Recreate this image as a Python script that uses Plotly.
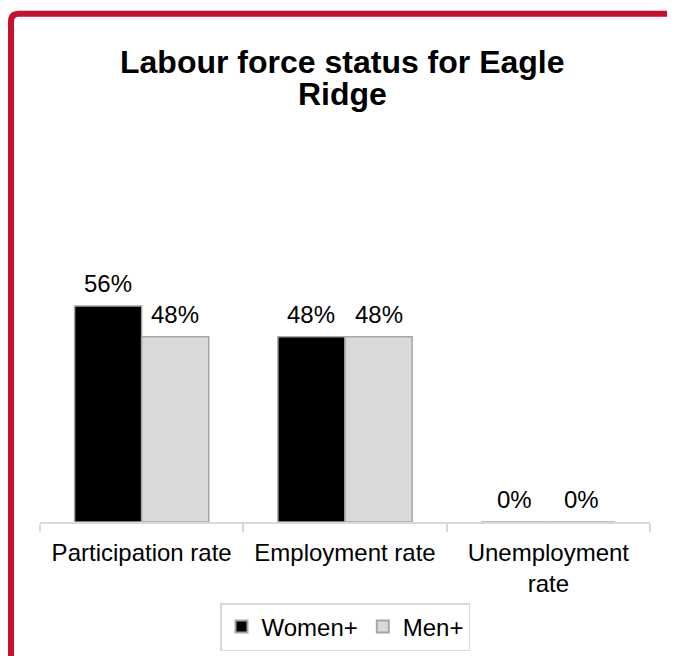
import plotly.graph_objects as go

categories = ["Participation rate", "Employment rate", "Unemployment<br>rate"]
women = [56, 48, 0]
men = [48, 48, 0]
women_labels = ["56%", "48%", "0%"]
men_labels = ["48%", "48%", "0%"]
title_lines = ["Labour force status for Eagle", "Ridge"]

W, H = 675, 656
L, R, T, B = 32, 33, 244, 142
pw, ph = W - L - R, H - T - B
BARGAP = 0.34

def px(x):
    return (x - L) / pw

def py(y):
    return (H - B - y) / ph

FONT = "Liberation Sans, Arial, sans-serif"

fig = go.Figure()
fig.add_trace(go.Bar(
    x=categories, y=women, name="Women+",
    marker=dict(color="#000000", line=dict(color="#A6A6A6", width=1.5)),
))
fig.add_trace(go.Bar(
    x=categories, y=men, name="Men+",
    marker=dict(color="#D9D9D9", line=dict(color="#A6A6A6", width=1.5)),
))

# value labels above the bars (positioned in data coordinates)
half = (1 - BARGAP) / 4
for i, cat in enumerate(categories):
    for val, lab, off in ((women[i], women_labels[i], -half), (men[i], men_labels[i], half)):
        fig.add_annotation(x=i + off, y=val, xref="x", yref="y", text=lab,
                           showarrow=False, xanchor="center", yanchor="bottom",
                           yshift=7, font=dict(size=24, color="#000000", family=FONT))

# red frame (left and top) with rounded corner
x0, y0, r = 3, 5.7, 8
path = (f"M {px(x0)},{py(H + 10)} L {px(x0)},{py(y0 + r)} "
        f"Q {px(x0)},{py(y0)} {px(x0 + r)},{py(y0)} L {px(W + 10)},{py(y0)}")
fig.add_shape(type="path", path=path, xref="paper", yref="paper",
              line=dict(color="#C8102E", width=6), layer="above")

# title (two lines with tight spacing)
for txt, yc in zip(title_lines, [54, 86]):
    fig.add_annotation(text=f"<b>{txt}</b>", xref="paper", yref="paper",
                       x=px(334.5), y=py(yc), xanchor="center", yanchor="middle",
                       showarrow=False, font=dict(size=32, color="#000000", family=FONT))

fig.update_layout(
    width=W, height=H,
    margin=dict(l=L, r=R, t=T, b=B),
    paper_bgcolor="white", plot_bgcolor="white",
    font=dict(family=FONT, color="#000000"),
    barmode="group", bargap=BARGAP, bargroupgap=0,
    showlegend=True,
    legend=dict(orientation="h", x=0.5, xanchor="center", y=py(595), yanchor="top",
                bordercolor="#D9D9D9", borderwidth=1.5,
                font=dict(size=24, color="#000000", family=FONT),
                itemsizing="constant", traceorder="normal"),
    xaxis=dict(showline=True, linecolor="#D9D9D9", linewidth=1.5,
               ticks="outside", tickson="boundaries", ticklen=8,
               tickcolor="#D9D9D9", tickwidth=1.5, ticklabelstandoff=8,
               tickfont=dict(size=24, color="#000000", family=FONT),
               showgrid=False, fixedrange=True),
    yaxis=dict(range=[0, 70], visible=False, showgrid=False, fixedrange=True),
)

fig.write_html("out.html")
